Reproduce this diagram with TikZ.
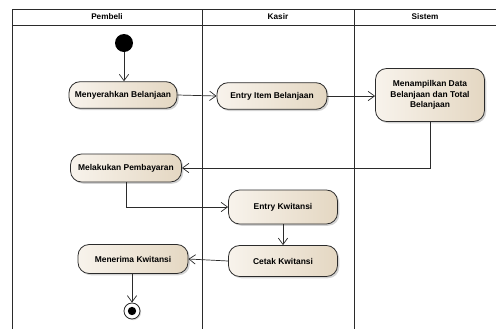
\documentclass[tikz,border=0pt]{standalone}
\usepackage{fontspec}
\setmainfont{Liberation Sans}
\usetikzlibrary{arrows.meta,positioning,shadows}
\usepackage{xcolor}
\definecolor{cact}{HTML}{F3EBDF}
\definecolor{cactdark}{HTML}{E4D7C2}
\definecolor{cline}{HTML}{2B2B2B}

\begin{document}
\begin{tikzpicture}[x=0.03cm, y=-0.03cm,
  act/.style={draw=cline, line width=0.7pt, rounded corners=9.5pt,
              left color=cact!60!white, right color=cactdark,
              drop shadow={shadow xshift=1.5pt, shadow yshift=-1.5pt, opacity=0.35},
              align=center, font=\fontsize{7.2}{9}\selectfont\bfseries,
              inner sep=2pt},
  lane/.style={line width=0.7pt, color=cline},
  flow/.style={-{Straight Barb[length=5.5pt, width=8pt]}, line width=0.6pt, color=cline},
  headtxt/.style={font=\fontsize{7}{8}\selectfont\bfseries}
]
  \useasboundingbox (0,0) rectangle (496,329);

  % swimlanes
  \draw[lane] (12,329) -- (12,9) -- (496,9);
  \draw[lane] (12,25) -- (496,25);
  \draw[lane] (202,9) -- (202,329);
  \draw[lane] (354,9) -- (354,329);
  \node[headtxt] (hp) at (107,17) {Pembeli};
  \node[headtxt] (hk) at (278,17) {Kasir};
  \node[headtxt] (hs) at (425,17) {Sistem};

  % start / end
  \node[circle, fill=black, inner sep=0pt, minimum size=0.54cm] (start) at (124,43) {};
  \node[circle, draw=cline, line width=0.7pt, fill=white, inner sep=0pt,
        minimum size=0.48cm, drop shadow={shadow xshift=1pt, shadow yshift=-1pt, opacity=0.3}] (stop) at (132,311) {};
  \node[circle, fill=black, inner sep=0pt, minimum size=0.25cm] (stopdot) at (stop) {};

  % actions
  \node[act, minimum width=3.24cm, minimum height=0.8cm] (serah) at (123,95) {Menyerahkan Belanjaan};
  \node[act, minimum width=3.3cm, minimum height=0.8cm] (item) at (272,96) {Entry Item Belanjaan};
  \node[act, minimum width=3.27cm, minimum height=1.59cm] (tampil) at (430,95) {Menampilkan Data\\Belanjaan dan Total\\Belanjaan};
  \node[act, minimum width=3.33cm, minimum height=0.84cm] (bayar) at (126,168) {Melakukan Pembayaran};
  \node[act, minimum width=3.27cm, minimum height=1.02cm] (kwit) at (283,207) {Entry Kwitansi};
  \node[act, minimum width=3.27cm, minimum height=0.93cm] (cetak) at (283,261) {Cetak Kwitansi};
  \node[act, minimum width=3.3cm, minimum height=0.87cm] (terima) at (133,259) {Menerima Kwitansi};

  % flows
  \draw[flow] (start) -- (start |- serah.north);
  \draw[flow] (serah.east) -- (item.west);
  \draw[flow] (item.east) -- (item.east -| tampil.west);
  \draw[flow] (tampil.south) |- (bayar.east);
  \draw[flow] (bayar.south) |- (kwit.west);
  \draw[flow] (kwit.south) -- (cetak.north);
  \draw[flow] (cetak.west) -- (terima.east);
  \draw[flow] (terima.south -| stop) -- (stop.north);
\end{tikzpicture}
\end{document}
